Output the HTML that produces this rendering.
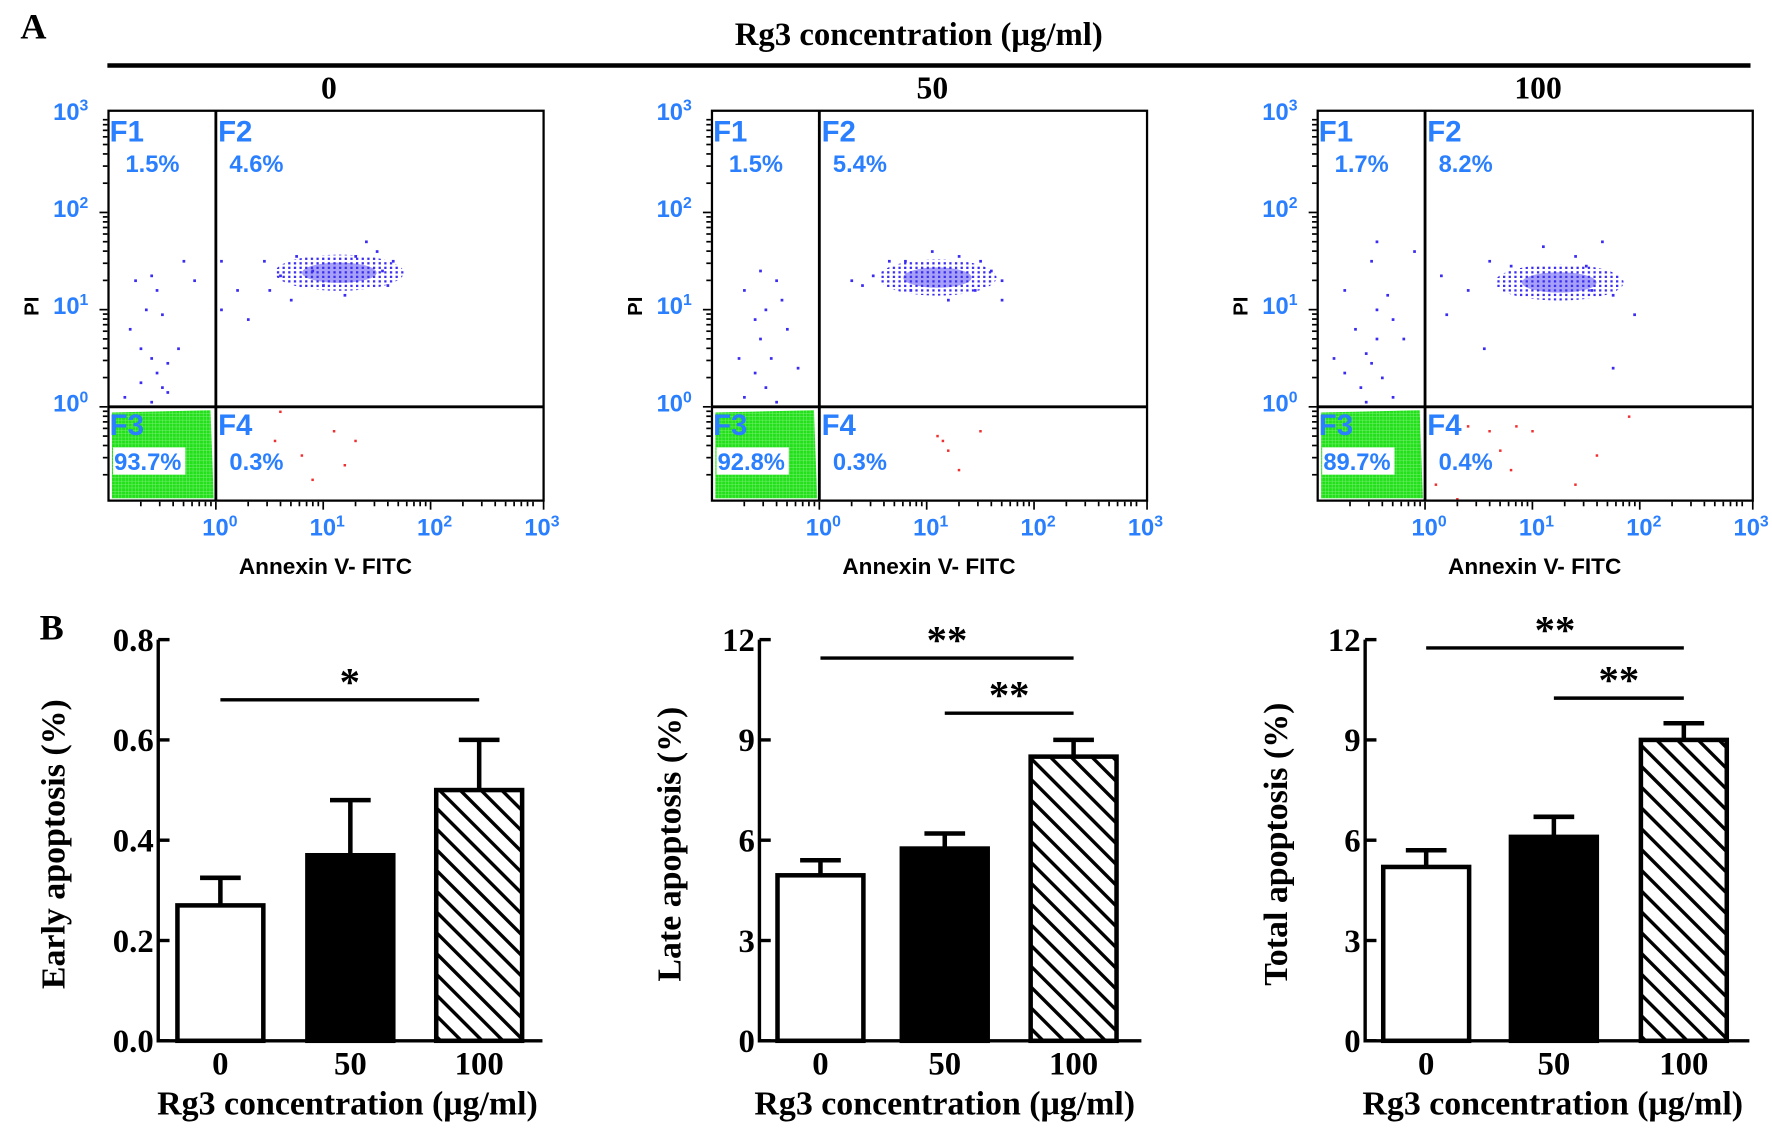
<!DOCTYPE html>
<html><head><meta charset="utf-8">
<style>
html,body{margin:0;padding:0;background:#fff;}
svg{display:block}
.tb{font-family:"Liberation Serif",serif;font-weight:bold;fill:#000}
.sa{font-family:"Liberation Sans",sans-serif;font-weight:bold}
.blue{fill:#2a7fff}
</style></head>
<body>
<svg id="fig" width="1772" height="1139" viewBox="0 0 1568 1007.9" xmlns="http://www.w3.org/2000/svg">
<defs>
<pattern id="hatch" patternUnits="userSpaceOnUse" width="13" height="13" patternTransform="rotate(-45)">
<rect width="13" height="13" fill="#fff"/><rect x="0" y="0" width="3" height="13" fill="#000"/>
</pattern>
<pattern id="greendots" patternUnits="userSpaceOnUse" width="3" height="3">
<rect width="3" height="3" fill="#7ef078"/><rect width="2.6" height="2.6" fill="#22e01a"/>
</pattern>
<pattern id="bluedots" patternUnits="userSpaceOnUse" width="5" height="4">
<rect width="2" height="2" fill="#3a2cf0"/>
</pattern>
</defs>
<text class="tb" x="18" y="34" font-size="32">A</text>
<text class="tb" x="813" y="40" font-size="29" text-anchor="middle">Rg3 concentration (μg/ml)</text>
<line x1="95" y1="58" x2="1549" y2="58" stroke="#000" stroke-width="4"/>
<text class="tb" x="35" y="566" font-size="32">B</text>
<g id="flow"></g>
<g id="bars"></g>
</svg>
<script>
// ---- Flow cytometry data (log10 units) ----
const flowOffsets = [0, 534, 1070];
const flowTitles = ["0", "50", "100"];
const pctF1 = ["1.5%", "1.5%", "1.7%"];
const pctF2 = ["4.6%", "5.4%", "8.2%"];
const pctF3 = ["93.7%", "92.8%", "89.7%"];
const pctF4 = ["0.3%", "0.3%", "0.4%"];
const clusterCenterX = [1.15, 1.1, 1.25];
const clusterCenterY = [1.38, 1.33, 1.28];
const clusterWidth = [0.6, 0.55, 0.6];
const f1Points = [
 [[-0.75,1.3],[-0.6,1.35],[-0.55,1.2],[-0.65,1.0],[-0.5,0.95],[-0.8,0.8],[-0.7,0.6],[-0.6,0.5],[-0.45,0.45],[-0.55,0.35],[-0.7,0.25],[-0.5,0.2],[-0.85,0.1],[-0.35,0.6],[-0.2,1.3],[-0.3,1.5],[-0.45,0.15],[-0.6,0.05]],
 [[-0.7,1.2],[-0.5,1.0],[-0.6,0.9],[-0.4,1.3],[-0.55,0.7],[-0.75,0.5],[-0.45,0.5],[-0.6,0.35],[-0.3,0.8],[-0.5,0.2],[-0.7,0.1],[-0.35,1.1],[-0.2,0.4],[-0.55,1.4],[-0.4,0.05]],
 [[-0.75,1.2],[-0.45,1.7],[-0.5,1.5],[-0.35,1.15],[-0.45,1.0],[-0.3,0.9],[-0.65,0.8],[-0.55,0.55],[-0.5,0.45],[-0.75,0.35],[-0.4,0.3],[-0.6,0.2],[-0.3,0.1],[-0.85,0.5],[-0.2,0.7],[-0.1,1.6],[-0.45,0.7],[-0.55,0.05]]
];
const f2Points = [
 [[0.05,1.5],[0.2,1.2],[0.5,1.2],[0.6,1.35],[0.45,1.5],[0.75,1.55],[0.9,1.4],[1.0,1.25],[1.3,1.55],[1.4,1.7],[1.5,1.6],[1.55,1.4],[1.6,1.25],[1.65,1.5],[0.7,1.1],[1.2,1.15],[0.05,1.0],[0.3,0.9]],
 [[0.3,1.3],[0.5,1.35],[0.65,1.5],[0.8,1.5],[1.05,1.6],[1.3,1.55],[1.5,1.5],[1.6,1.4],[1.7,1.1],[1.45,1.2],[0.85,1.2],[1.2,1.1],[0.4,1.25],[1.7,1.3]],
 [[0.15,1.35],[0.4,1.2],[0.6,1.5],[0.8,1.45],[1.4,1.55],[1.5,1.45],[1.65,1.7],[1.55,1.2],[1.75,1.15],[1.75,0.4],[1.95,0.95],[0.55,0.6],[0.2,0.95],[1.1,1.65]]
];
const f4Points = [
 [[0.6,-0.05],[0.55,-0.35],[0.8,-0.5],[1.1,-0.25],[1.3,-0.35],[1.2,-0.6],[0.9,-0.75]],
 [[1.1,-0.3],[1.15,-0.35],[1.5,-0.25],[1.3,-0.65],[1.2,-0.45]],
 [[0.1,-0.8],[0.4,-0.2],[0.6,-0.25],[0.85,-0.2],[1.0,-0.25],[0.7,-0.45],[0.8,-0.65],[1.6,-0.5],[1.9,-0.1],[1.4,-0.8],[0.3,-0.95],[0.5,-0.55]]
];
const xTickLabels = ["0","1","2","3"];

// ---- Bar chart data ----
const barCategories = ["0","50","100"];
const earlyValues = [0.27, 0.37, 0.50];
const earlyErrors = [0.325, 0.48, 0.60];
const lateValues = [4.95, 5.75, 8.5];
const lateErrors = [5.4, 6.2, 9.0];
const totalValues = [5.2, 6.1, 9.0];
const totalErrors = [5.7, 6.7, 9.5];
const earlyTicks = ["0.0","0.2","0.4","0.6","0.8"];
const lateTicks = ["0","3","6","9","12"];
const totalTicks = ["0","3","6","9","12"];

const NS = "http://www.w3.org/2000/svg";
function mk(tag, attrs, parent, text){
  const e = document.createElementNS(NS, tag);
  for (const k in attrs) e.setAttribute(k, attrs[k]);
  if (text !== undefined) e.textContent = text;
  parent.appendChild(e); return e;
}

const flow = document.getElementById('flow');
flowOffsets.forEach((ox, p) => {
  const g = mk('g', {}, flow);
  
  
  const L = ox + 96, R = ox + 481, T = 98, B = 443;
  const sx = v => ox + 191 + v * 95;
  const sy = v => 360 - v * 86;
  const t = mk('text', {x: ox + 291, y: 87, 'font-size': 28, 'text-anchor': 'middle', class: 'tb'}, g, flowTitles[p]);
  
  
  const gr = mk('path', {d: `M${L+3} ${B-2} L${L+3} ${365} L${sx(-0.05)} ${363} L${sx(-0.02)} ${B-2} Z`, fill: 'url(#greendots)'}, g);
  
  
  mk('rect', {x: L + 4, y: 396, width: 64, height: 24, fill: '#fff'}, g);
  const cx = sx(clusterCenterX[p]), cy = sy(clusterCenterY[p]);
  const el = mk('ellipse', {cx: cx, cy: cy, rx: clusterWidth[p] * 95, ry: 16, fill: 'url(#bluedots)'}, g);
  
  
  mk('ellipse', {cx: cx, cy: cy, rx: clusterWidth[p] * 55, ry: 9, fill: '#3a2cf0', opacity: 0.45}, g);
  f1Points[p].concat(f2Points[p]).forEach(pt => {
    const d = mk('rect', {x: sx(pt[0]) - 1, y: sy(pt[1]) - 1, width: 2.4, height: 2.4, fill: '#3a2cf0'}, g);
    
    
  });
  f4Points[p].forEach(pt => {
    const d = mk('rect', {x: sx(pt[0]) - 1, y: sy(pt[1]) - 1, width: 2.2, height: 2.2, fill: '#f03030'}, g);
    
    
  });
  const bx = mk('rect', {x: L, y: T, width: R - L, height: B - T, fill: 'none', stroke: '#000', 'stroke-width': 2}, g);
  
  
  mk('line', {x1: sx(0), y1: T, x2: sx(0), y2: B, stroke: '#000', 'stroke-width': 2.5}, g);
  mk('line', {x1: L, y1: sy(0), x2: R, y2: sy(0), stroke: '#000', 'stroke-width': 2.5}, g);
  for (let d = -1; d < 3; d++) for (let m = 1; m <= 9; m++) {
    const v = d + Math.log10(m); const y = sy(v);
    if (y > B || y < T) continue;
    mk('line', {x1: L - (m === 1 ? 8 : 5), y1: y, x2: L - 1, y2: y, stroke: '#000', 'stroke-width': 1.5}, g);
  }
  for (let d = -1; d < 3; d++) for (let m = 1; m <= 9; m++) {
    const v = d + Math.log10(m); const x = sx(v);
    if (x < L + 5 || x > R) continue;
    mk('line', {x1: x, y1: B + 1, x2: x, y2: B + (m === 1 ? 8 : 5), stroke: '#000', 'stroke-width': 1.5}, g);
  }
  mk('line', {x1: R, y1: B, x2: R, y2: B + 8, stroke: '#000', 'stroke-width': 1.5}, g);
  xTickLabels.forEach((lab, i) => {
    const tx = mk('text', {x: sx(i) - 12, y: 474, 'font-size': 21, class: 'sa blue'}, g);
    tx.innerHTML = '10<tspan dy="-8" font-size="14">' + lab + '</tspan>';
    
    
    const ty = mk('text', {x: L - 49, y: sy(i) + 4, 'font-size': 21, class: 'sa blue'}, g);
    ty.innerHTML = '10<tspan dy="-8" font-size="14">' + lab + '</tspan>';
    
    
  });
  const xt = mk('text', {x: ox + 288, y: 508, 'font-size': 20, 'text-anchor': 'middle', class: 'sa'}, g, 'Annexin V- FITC');
  
  
  const yt = mk('text', {x: ox + 34, y: 271, 'font-size': 18, 'text-anchor': 'middle', class: 'sa', transform: `rotate(-90 ${ox + 34} 271)`}, g, 'PI');
  
  
  const q = [['F1', L + 1, 125], ['F2', sx(0) + 2, 125], ['F3', L + 1, 385], ['F4', sx(0) + 2, 385]];
  q.forEach(a => {
    const e = mk('text', {x: a[1], y: a[2], 'font-size': 26, class: 'sa blue'}, g, a[0]);
    
    
  });
  const pc = [[pctF1[p], L + 15, 152], [pctF2[p], sx(0) + 12, 152], [pctF3[p], L + 5, 416], [pctF4[p], sx(0) + 12, 416]];
  pc.forEach(a => {
    const e = mk('text', {x: a[1], y: a[2], 'font-size': 21, class: 'sa blue'}, g, a[0]);
    
    
  });
});

// ---- Bar charts ----
const bars = document.getElementById('bars');
const charts = [
  {ax: 140, right: 480, max: 0.8, ticks: earlyTicks, vals: earlyValues, errs: earlyErrors, title: 'Early apoptosis (%)', tx: 57, bx: [157, 272, 386],
   sig: [[0, 2, 0.68, '*']]},
  {ax: 672, right: 1010, max: 12, ticks: lateTicks, vals: lateValues, errs: lateErrors, title: 'Late apoptosis (%)', tx: 602, bx: [688, 798, 912],
   sig: [[0, 2, 11.45, '**'], [1, 2, 9.8, '**']]},
  {ax: 1208, right: 1548, max: 12, ticks: totalTicks, vals: totalValues, errs: totalErrors, title: 'Total apoptosis (%)', tx: 1139, bx: [1224, 1337, 1452],
   sig: [[0, 2, 11.75, '**'], [1, 2, 10.25, '**']]}
];
const fills = ['#fff', '#000', 'url(#hatch)'];
charts.forEach((c, ci) => {
  const g = mk('g', {}, bars);
  
  
  const Y0 = 921, YT = 566;
  const sy = v => Y0 - (v / c.max) * (Y0 - YT);
  const bw = 76;
  c.vals.forEach((v, i) => {
    const x = c.bx[i], cxm = x + bw / 2;
    const el = mk('line', {x1: cxm, y1: sy(v), x2: cxm, y2: sy(c.errs[i]), stroke: '#000', 'stroke-width': 4}, g);
    
    
    mk('line', {x1: cxm - 18, y1: sy(c.errs[i]), x2: cxm + 18, y2: sy(c.errs[i]), stroke: '#000', 'stroke-width': 4}, g);
    const r = mk('rect', {x: x, y: sy(v), width: bw, height: Y0 - sy(v), fill: fills[i], stroke: '#000', 'stroke-width': 4}, g);
    
    
    const lab = mk('text', {x: cxm, y: 951, 'font-size': 29, 'text-anchor': 'middle', class: 'tb'}, g, barCategories[i]);
    
    
  });
  mk('line', {x1: c.ax, y1: YT, x2: c.ax, y2: Y0 + 1.5, stroke: '#000', 'stroke-width': 3}, g);
  mk('line', {x1: c.ax, y1: Y0, x2: c.right, y2: Y0, stroke: '#000', 'stroke-width': 3}, g);
  c.ticks.forEach((t, i) => {
    const v = c.max * i / (c.ticks.length - 1), y = sy(v);
    mk('line', {x1: c.ax, y1: y, x2: c.ax + 10, y2: y, stroke: '#000', 'stroke-width': 3}, g);
    const e = mk('text', {x: c.ax - 4, y: y + 10, 'font-size': 29, 'text-anchor': 'end', class: 'tb'}, g, t);
    
    
  });
  const yt = mk('text', {x: c.tx, y: 747, 'font-size': 30, 'text-anchor': 'middle', class: 'tb', transform: `rotate(-90 ${c.tx} 747)`}, g, c.title);
  
  
  const xt = mk('text', {x: (c.bx[0] + c.bx[2] + bw) / 2 - 2, y: 986, 'font-size': 30, 'text-anchor': 'middle', class: 'tb'}, g, 'Rg3 concentration (μg/ml)');
  
  
  c.sig.forEach(s => {
    const x1 = c.bx[s[0]] + bw / 2, x2 = c.bx[s[1]] + bw / 2, y = sy(s[2]);
    const l = mk('line', {x1: x1, y1: y, x2: x2, y2: y, stroke: '#000', 'stroke-width': 3}, g);
    
    
    const st = mk('text', {x: (x1 + x2) / 2, y: y - 4, 'font-size': 36, 'text-anchor': 'middle', class: 'tb'}, g, s[3]);
    
    
  });
});
</script>
</body></html>
